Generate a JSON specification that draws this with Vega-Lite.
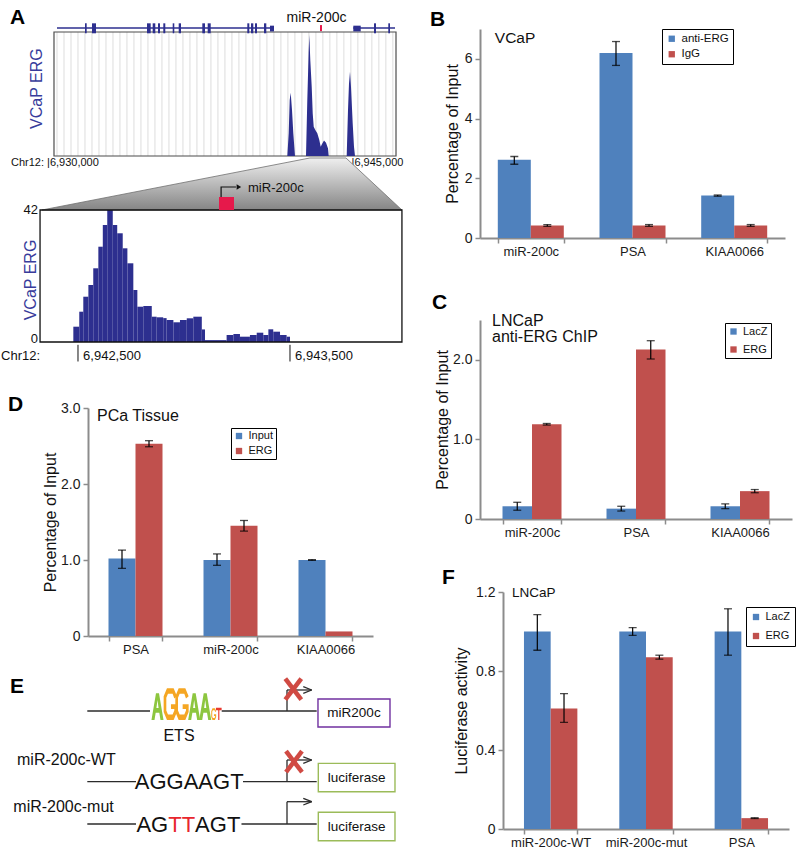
{
"$schema": "https://vega.github.io/schema/vega-lite/v6.json",
"background": "white",
"padding": 0,
"config": {
  "font": "Liberation Sans",
  "view": {"stroke": null},
  "axis": {"grid": false, "domainColor": "#8c8c8c", "domainWidth": 2, "tickColor": "#8c8c8c", "tickWidth": 1.5, "tickSize": 5, "labelColor": "#1a1a1a", "titleColor": "#111111", "titleFontWeight": "normal"},
  "axisX": {"labelFontSize": 13, "labelAngle": 0, "tickBand": "extent", "labelPadding": 2},
  "axisY": {"labelFontSize": 14, "titleFontSize": 16, "labelPadding": 3}
},
"hconcat": [
{
  "vconcat": [
  {
    "width": 314, "height": 127,
    "layer": [
      {"data": {"values": [{"gx":6930490},{"gx":6930833},{"gx":6931176},{"gx":6931519},{"gx":6931862},{"gx":6932205},{"gx":6932548},{"gx":6932891},{"gx":6933234},{"gx":6933577},{"gx":6933920},{"gx":6934263},{"gx":6934606},{"gx":6934949},{"gx":6935292},{"gx":6935635},{"gx":6935978},{"gx":6936321},{"gx":6936664},{"gx":6937007},{"gx":6937350},{"gx":6937693},{"gx":6938036},{"gx":6938379},{"gx":6938722},{"gx":6939065},{"gx":6939408},{"gx":6939751},{"gx":6940094},{"gx":6940437},{"gx":6940780},{"gx":6941123},{"gx":6941466},{"gx":6941809},{"gx":6942152},{"gx":6942495},{"gx":6942838},{"gx":6943181},{"gx":6943524},{"gx":6943867},{"gx":6944210},{"gx":6944553},{"gx":6944896},{"gx":6945239},{"gx":6945582},{"gx":6945925},{"gx":6946268},{"gx":6946611},{"gx":6946954}]},
       "mark": {"type": "rule", "color": "#d4d4d4", "strokeWidth": 0.8},
       "encoding": {
         "x": {"field": "gx", "type": "quantitative", "scale": {"domain": [6932010, 6947402], "nice": false, "zero": false}, "axis": null},
         "y": {"datum": 0, "type": "quantitative", "scale": {"domain": [0, 42], "nice": false, "zero": false}, "axis": null},
         "y2": {"datum": 41}}},
      {"data": {"values": [{"start": 6930343, "end": 6947108, "lo": 0, "hi": 41}]},
       "mark": {"type": "rect", "filled": false, "stroke": "#4d4d4d", "strokeWidth": 1.2},
       "encoding": {
         "x": {"field": "start", "type": "quantitative", "scale": {"domain": [6932010, 6947402], "nice": false, "zero": false}, "axis": null},
         "x2": {"field": "end"},
         "y": {"field": "lo", "type": "quantitative", "scale": {"domain": [0, 42], "nice": false, "zero": false}, "axis": null},
         "y2": {"field": "hi"}}},
      {"data": {"values": [
         {"peak":1,"pos":6941780,"cov":0},{"peak":1,"pos":6941848,"cov":7.5},{"peak":1,"pos":6941897,"cov":18.5},{"peak":1,"pos":6941946,"cov":20.9},{"peak":1,"pos":6942010,"cov":15.2},{"peak":1,"pos":6942074,"cov":7.5},{"peak":1,"pos":6942157,"cov":0},
         {"peak":2,"pos":6942696,"cov":0},{"peak":2,"pos":6942760,"cov":18.5},{"peak":2,"pos":6942829,"cov":35},{"peak":2,"pos":6942858,"cov":40},{"peak":2,"pos":6942907,"cov":31.7},{"peak":2,"pos":6942976,"cov":22.9},{"peak":2,"pos":6943025,"cov":14.1},{"peak":2,"pos":6943074,"cov":9.7},{"peak":2,"pos":6943152,"cov":8.6},{"peak":2,"pos":6943250,"cov":7.5},{"peak":2,"pos":6943348,"cov":5.3},{"peak":2,"pos":6943417,"cov":3.1},{"peak":2,"pos":6943481,"cov":4.0},{"peak":2,"pos":6943579,"cov":5.1},{"peak":2,"pos":6943677,"cov":4.4},{"peak":2,"pos":6943775,"cov":2.5},{"peak":2,"pos":6943809,"cov":0},
         {"peak":3,"pos":6944691,"cov":0},{"peak":3,"pos":6944755,"cov":15.2},{"peak":3,"pos":6944804,"cov":24},{"peak":3,"pos":6944853,"cov":27.9},{"peak":3,"pos":6944902,"cov":22.9},{"peak":3,"pos":6944985,"cov":10.8},{"peak":3,"pos":6945049,"cov":3.1},{"peak":3,"pos":6945098,"cov":0}]},
       "mark": {"type": "area", "color": "#2d2f8f", "interpolate": "linear"},
       "encoding": {
         "x": {"field": "pos", "type": "quantitative", "scale": {"domain": [6932010, 6947402], "nice": false, "zero": false}, "axis": null},
         "y": {"field": "cov", "type": "quantitative", "scale": {"domain": [0, 42], "nice": false, "zero": false}, "axis": null},
         "detail": {"field": "peak"}}},
      {"data": {"values": [{"start": 6930490, "end": 6941128}, {"start": 6945015, "end": 6947059}]},
       "mark": {"type": "rule", "color": "#2d2f8f", "strokeWidth": 1.4},
       "encoding": {
         "x": {"field": "start", "type": "quantitative", "scale": {"domain": [6932010, 6947402], "nice": false, "zero": false}, "axis": null},
         "x2": {"field": "end"},
         "y": {"datum": 42.33, "type": "quantitative", "scale": {"domain": [0, 42], "nice": false, "zero": false}, "axis": null}}},
      {"data": {"values": [{"start":6931863,"end":6931946},{"start":6932206,"end":6932402},{"start":6934902,"end":6935083},{"start":6935181,"end":6935309},{"start":6935441,"end":6935539},{"start":6935701,"end":6935799},{"start":6936162,"end":6936240},{"start":6936456,"end":6936569},{"start":6937613,"end":6937745},{"start":6937877,"end":6938025},{"start":6939819,"end":6939917},{"start":6940000,"end":6940113},{"start":6940196,"end":6940294},{"start":6940637,"end":6940750},{"start":6946030,"end":6946128},{"start":6946730,"end":6946814}]},
       "mark": {"type": "rect", "color": "#2d2f8f"},
       "encoding": {
         "x": {"field": "start", "type": "quantitative", "scale": {"domain": [6932010, 6947402], "nice": false, "zero": false}, "axis": null},
         "x2": {"field": "end"},
         "y": {"datum": 40.58, "type": "quantitative", "scale": {"domain": [0, 42], "nice": false, "zero": false}, "axis": null},
         "y2": {"datum": 43.88}}},
      {"data": {"values": [{"start":6940931,"end":6941127},{"start":6945015,"end":6945378}]},
       "mark": {"type": "rect", "color": "#2d2f8f"},
       "encoding": {
         "x": {"field": "start", "type": "quantitative", "scale": {"domain": [6932010, 6947402], "nice": false, "zero": false}, "axis": null},
         "x2": {"field": "end"},
         "y": {"datum": 41.2, "type": "quantitative", "scale": {"domain": [0, 42], "nice": false, "zero": false}, "axis": null},
         "y2": {"datum": 43.1}}},
      {"data": {"values": [{"start": 6943383, "end": 6943481}]},
       "mark": {"type": "rect", "color": "#e6194b"},
       "encoding": {
         "x": {"field": "start", "type": "quantitative", "scale": {"domain": [6932010, 6947402], "nice": false, "zero": false}, "axis": null},
         "x2": {"field": "end"},
         "y": {"datum": 41.3, "type": "quantitative", "scale": {"domain": [0, 42], "nice": false, "zero": false}, "axis": null},
         "y2": {"datum": 43.3}}},
      {"data": {"values": [{"t": "miR-200c", "x": 6943211, "y": 45.53}]},
       "mark": {"type": "text", "align": "center", "baseline": "middle", "fontSize": 14, "color": "#111"},
       "encoding": {
         "x": {"field": "x", "type": "quantitative", "scale": {"domain": [6932010, 6947402], "nice": false, "zero": false}, "axis": null},
         "y": {"field": "y", "type": "quantitative", "scale": {"domain": [0, 42], "nice": false, "zero": false}, "axis": null},
         "text": {"field": "t"}}},
      {"data": {"values": [{"t": "VCaP ERG", "x": 6929510, "y": 22.3}]},
       "mark": {"type": "text", "align": "center", "baseline": "middle", "fontSize": 16, "angle": 270, "color": "#383c9b"},
       "encoding": {
         "x": {"field": "x", "type": "quantitative", "scale": {"domain": [6932010, 6947402], "nice": false, "zero": false}, "axis": null},
         "y": {"field": "y", "type": "quantitative", "scale": {"domain": [0, 42], "nice": false, "zero": false}, "axis": null},
         "text": {"field": "t"}}},
      {"data": {"values": [{"t": "Chr12: |6,930,000", "x": 6928235, "y": -2.31}, {"t": "|6,945,000", "x": 6944931, "y": -2.31}]},
       "mark": {"type": "text", "align": "left", "baseline": "middle", "fontSize": 11, "color": "#111"},
       "encoding": {
         "x": {"field": "x", "type": "quantitative", "scale": {"domain": [6932010, 6947402], "nice": false, "zero": false}, "axis": null},
         "y": {"field": "y", "type": "quantitative", "scale": {"domain": [0, 42], "nice": false, "zero": false}, "axis": null},
         "text": {"field": "t"}}},
      {"data": {"values": [{"t": "A", "x": 6928186, "y": 45.8}, {"t": "B", "x": 6948775, "y": 44.97}]},
       "mark": {"type": "text", "align": "left", "baseline": "middle", "fontSize": 21, "fontWeight": "bold", "color": "#000"},
       "encoding": {
         "x": {"field": "x", "type": "quantitative", "scale": {"domain": [6932010, 6947402], "nice": false, "zero": false}, "axis": null},
         "y": {"field": "y", "type": "quantitative", "scale": {"domain": [0, 42], "nice": false, "zero": false}, "axis": null},
         "text": {"field": "t"}}},
      {"data": {"values": [{"x": 6927721, "y": 51.42}]},
       "mark": {"type": "square", "size": 1, "color": "white", "opacity": 1, "filled": true},
       "encoding": {
         "x": {"field": "x", "type": "quantitative", "scale": {"domain": [6932010, 6947402], "nice": false, "zero": false}, "axis": null},
         "y": {"field": "y", "type": "quantitative", "scale": {"domain": [0, 42], "nice": false, "zero": false}, "axis": null}}}
    ]
  },
  {
    "width": 314, "height": 252,
    "layer": [
      {"data": {"values": [{"pos": 6942330, "lvl": 42}, {"pos": 6943594, "lvl": 58.55}, {"pos": 6943764, "lvl": 58.55}, {"pos": 6944028, "lvl": 42}]},
       "mark": {"type": "area", "stroke": "#707070", "strokeWidth": 0.8, "color": {"gradient": "linear", "x1": 0, "y1": 0, "x2": 0, "y2": 1, "stops": [{"offset": 0, "color": "#efefef"}, {"offset": 1, "color": "#858585"}]}},
       "encoding": {
         "x": {"field": "pos", "type": "quantitative", "scale": {"domain": [6942547.2, 6944028.3], "nice": false, "zero": false}, "axis": null},
         "y": {"field": "lvl", "type": "quantitative", "scale": {"domain": [-21, 59.18], "nice": false, "zero": false}, "axis": null},
         "y2": {"datum": 42}}},
      {"data": {"values": [
         {"start":6942478,"end":6942506,"cov":4.87},{"start":6942506,"end":6942525,"cov":9.64},{"start":6942525,"end":6942549,"cov":14.41},{"start":6942549,"end":6942572,"cov":18.14},{"start":6942572,"end":6942596,"cov":23.45},{"start":6942596,"end":6942617,"cov":30.32},{"start":6942617,"end":6942638,"cov":37.23},{"start":6942638,"end":6942664,"cov":42},{"start":6942664,"end":6942685,"cov":37.23},{"start":6942685,"end":6942711,"cov":34.59},{"start":6942711,"end":6942733,"cov":29.81},{"start":6942733,"end":6942761,"cov":25.04},{"start":6942761,"end":6942780,"cov":16.55},{"start":6942780,"end":6942808,"cov":11.23},{"start":6942808,"end":6942848,"cov":11.45},{"start":6942848,"end":6942871,"cov":8.05},{"start":6942871,"end":6942902,"cov":7.86},{"start":6942902,"end":6942918,"cov":7.6},{"start":6942918,"end":6942950,"cov":7.0},{"start":6942950,"end":6942981,"cov":6.27},{"start":6942981,"end":6943013,"cov":7.0},{"start":6943013,"end":6943044,"cov":7.54},{"start":6943044,"end":6943084,"cov":8.05},{"start":6943084,"end":6943099,"cov":4.0},{"start":6943099,"end":6943201,"cov":0.6},{"start":6943201,"end":6943233,"cov":2.23},{"start":6943233,"end":6943264,"cov":2.55},{"start":6943264,"end":6943311,"cov":1.69},{"start":6943311,"end":6943343,"cov":2.23},{"start":6943343,"end":6943374,"cov":2.96},{"start":6943374,"end":6943398,"cov":2.23},{"start":6943398,"end":6943421,"cov":4.04},{"start":6943421,"end":6943453,"cov":3.28},{"start":6943453,"end":6943484,"cov":2.23},{"start":6943484,"end":6943500,"cov":1.69}]},
       "mark": {"type": "rect", "color": "#2d2f8f"},
       "encoding": {
         "x": {"field": "start", "type": "quantitative", "scale": {"domain": [6942547.2, 6944028.3], "nice": false, "zero": false}, "axis": null},
         "x2": {"field": "end"},
         "y": {"field": "cov", "type": "quantitative", "scale": {"domain": [-21, 59.18], "nice": false, "zero": false}, "axis": null},
         "y2": {"datum": 0}}},
      {"data": {"values": [{"start": 6942321, "end": 6944028, "lo": 0, "hi": 42}]},
       "mark": {"type": "rect", "filled": false, "stroke": "#111", "strokeWidth": 1.3},
       "encoding": {
         "x": {"field": "start", "type": "quantitative", "scale": {"domain": [6942547.2, 6944028.3], "nice": false, "zero": false}, "axis": null},
         "x2": {"field": "end"},
         "y": {"field": "lo", "type": "quantitative", "scale": {"domain": [-21, 59.18], "nice": false, "zero": false}, "axis": null},
         "y2": {"field": "hi"}}},
      {"data": {"values": [{"start": 6943165, "end": 6943236}]},
       "mark": {"type": "rect", "color": "#e6194b"},
       "encoding": {
         "x": {"field": "start", "type": "quantitative", "scale": {"domain": [6942547.2, 6944028.3], "nice": false, "zero": false}, "axis": null},
         "x2": {"field": "end"},
         "y": {"datum": 42, "type": "quantitative", "scale": {"domain": [-21, 59.18], "nice": false, "zero": false}, "axis": null},
         "y2": {"datum": 46.14}}},
      {"data": {"values": [{"pos": 6943175, "lvl": 46.14, "o": 1}, {"pos": 6943175, "lvl": 49.32, "o": 2}, {"pos": 6943245, "lvl": 49.32, "o": 3}]},
       "mark": {"type": "line", "color": "#111", "strokeWidth": 1.2},
       "encoding": {
         "x": {"field": "pos", "type": "quantitative", "scale": {"domain": [6942547.2, 6944028.3], "nice": false, "zero": false}, "axis": null},
         "y": {"field": "lvl", "type": "quantitative", "scale": {"domain": [-21, 59.18], "nice": false, "zero": false}, "axis": null},
         "order": {"field": "o"}}},
      {"data": {"values": [{"pos": 6943259, "lvl": 49.32}]},
       "mark": {"type": "point", "shape": "triangle-right", "filled": true, "size": 28, "color": "#111", "opacity": 1},
       "encoding": {
         "x": {"field": "pos", "type": "quantitative", "scale": {"domain": [6942547.2, 6944028.3], "nice": false, "zero": false}, "axis": null},
         "y": {"field": "lvl", "type": "quantitative", "scale": {"domain": [-21, 59.18], "nice": false, "zero": false}, "axis": null}}},
      {"data": {"values": [{"pos": 6942500}, {"pos": 6943500}]},
       "mark": {"type": "rule", "color": "#111", "strokeWidth": 1},
       "encoding": {
         "x": {"field": "pos", "type": "quantitative", "scale": {"domain": [6942547.2, 6944028.3], "nice": false, "zero": false}, "axis": null},
         "y": {"datum": -0.9, "type": "quantitative", "scale": {"domain": [-21, 59.18], "nice": false, "zero": false}, "axis": null},
         "y2": {"datum": -6.2}}},
      {"data": {"values": [{"t": "42", "x": 6942311, "y": 42}, {"t": "0", "x": 6942311, "y": 0.8}]},
       "mark": {"type": "text", "align": "right", "baseline": "middle", "fontSize": 13, "color": "#111"},
       "encoding": {
         "x": {"field": "x", "type": "quantitative", "scale": {"domain": [6942547.2, 6944028.3], "nice": false, "zero": false}, "axis": null},
         "y": {"field": "y", "type": "quantitative", "scale": {"domain": [-21, 59.18], "nice": false, "zero": false}, "axis": null},
         "text": {"field": "t"}}},
      {"data": {"values": [{"t": "VCaP ERG", "x": 6942278, "y": 19.73}]},
       "mark": {"type": "text", "align": "center", "baseline": "middle", "fontSize": 16, "angle": 270, "color": "#383c9b"},
       "encoding": {
         "x": {"field": "x", "type": "quantitative", "scale": {"domain": [6942547.2, 6944028.3], "nice": false, "zero": false}, "axis": null},
         "y": {"field": "y", "type": "quantitative", "scale": {"domain": [-21, 59.18], "nice": false, "zero": false}, "axis": null},
         "text": {"field": "t"}}},
      {"data": {"values": [{"t": "miR-200c", "x": 6943302, "y": 48.9}, {"t": "Chr12:", "x": 6942137, "y": -4.3}, {"t": "6,942,500", "x": 6942524, "y": -4.3}, {"t": "6,943,500", "x": 6943524, "y": -4.3}]},
       "mark": {"type": "text", "align": "left", "baseline": "middle", "fontSize": 13, "color": "#111"},
       "encoding": {
         "x": {"field": "x", "type": "quantitative", "scale": {"domain": [6942547.2, 6944028.3], "nice": false, "zero": false}, "axis": null},
         "y": {"field": "y", "type": "quantitative", "scale": {"domain": [-21, 59.18], "nice": false, "zero": false}, "axis": null},
         "text": {"field": "t"}}},
      {"data": {"values": [{"t": "C", "x": 6944170, "y": 12.25}, {"t": "D", "x": 6942170, "y": -19.89}]},
       "mark": {"type": "text", "align": "left", "baseline": "middle", "fontSize": 21, "fontWeight": "bold", "color": "#000"},
       "encoding": {
         "x": {"field": "x", "type": "quantitative", "scale": {"domain": [6942547.2, 6944028.3], "nice": false, "zero": false}, "axis": null},
         "y": {"field": "y", "type": "quantitative", "scale": {"domain": [-21, 59.18], "nice": false, "zero": false}, "axis": null},
         "text": {"field": "t"}}}
    ]
  },
  {
    "width": 285, "height": 228,
    "data": {"values": [
      {"target":"PSA","series":"Input","value":1.02,"lo":0.89,"hi":1.13},
      {"target":"PSA","series":"ERG","value":2.53,"lo":2.49,"hi":2.57},
      {"target":"miR-200c","series":"Input","value":1.0,"lo":0.93,"hi":1.08},
      {"target":"miR-200c","series":"ERG","value":1.45,"lo":1.38,"hi":1.52},
      {"target":"KIAA0066","series":"Input","value":1.0,"lo":0.995,"hi":1.005},
      {"target":"KIAA0066","series":"ERG","value":0.06,"lo":null,"hi":null}
    ]},
    "encoding": {"x": {"field": "target", "type": "nominal", "sort": ["PSA","miR-200c","KIAA0066"], "scale": {"type": "band", "paddingInner": 0.432, "paddingOuter": 0.216}, "axis": {"title": null}}},
    "layer": [
      {"transform": [{"filter": "datum.series === 'Input'"}],
       "mark": {"type": "bar", "size": 27, "xOffset": -13.5},
       "encoding": {
         "y": {"field": "value", "type": "quantitative", "title": "Percentage of Input", "scale": {"domain": [0, 3], "nice": false}, "axis": {"values": [0,0.5,1,1.5,2,2.5,3], "labelExpr": "datum.value === 0 ? '0' : format(datum.value, '.1f')", "titlePadding": 2}},
         "color": {"field": "series", "type": "nominal", "sort": ["Input","ERG"], "scale": {"domain": ["Input","ERG"], "range": ["#4f81bd","#c0504d"]},
           "legend": {"orient": "none", "legendX": 143, "legendY": 20, "title": null, "strokeColor": "black", "fillColor": "white", "padding": 2.5, "rowPadding": 3, "symbolType": "square", "symbolSize": 40, "symbolStrokeWidth": 0, "labelFontSize": 11, "labelOffset": 4, "labelColor": "#111"}}}},
      {"transform": [{"filter": "datum.series === 'ERG'"}],
       "mark": {"type": "bar", "size": 27, "xOffset": 13.5},
       "encoding": {
         "y": {"field": "value", "type": "quantitative", "title": "Percentage of Input"},
         "color": {"field": "series", "type": "nominal", "sort": ["Input","ERG"], "scale": {"domain": ["Input","ERG"], "range": ["#4f81bd","#c0504d"]}}}},
      {"transform": [{"filter": "datum.series === 'Input' && isValid(datum.lo)"}],
       "mark": {"type": "rule", "color": "black", "strokeWidth": 1.2, "xOffset": -13.5},
       "encoding": {"y": {"field": "lo", "type": "quantitative", "title": "Percentage of Input"}, "y2": {"field": "hi"}}},
      {"transform": [{"filter": "datum.series === 'ERG' && isValid(datum.lo)"}],
       "mark": {"type": "rule", "color": "black", "strokeWidth": 1.2, "xOffset": 13.5},
       "encoding": {"y": {"field": "lo", "type": "quantitative", "title": "Percentage of Input"}, "y2": {"field": "hi"}}},
      {"transform": [{"filter": "datum.series === 'Input' && isValid(datum.lo)"}],
       "mark": {"type": "tick", "color": "black", "size": 8, "thickness": 1.3, "xOffset": -13.5},
       "encoding": {"y": {"field": "lo", "type": "quantitative", "title": "Percentage of Input"}}},
      {"transform": [{"filter": "datum.series === 'ERG' && isValid(datum.lo)"}],
       "mark": {"type": "tick", "color": "black", "size": 8, "thickness": 1.3, "xOffset": 13.5},
       "encoding": {"y": {"field": "lo", "type": "quantitative", "title": "Percentage of Input"}}},
      {"transform": [{"filter": "datum.series === 'Input' && isValid(datum.hi)"}],
       "mark": {"type": "tick", "color": "black", "size": 8, "thickness": 1.3, "xOffset": -13.5},
       "encoding": {"y": {"field": "hi", "type": "quantitative", "title": "Percentage of Input"}}},
      {"transform": [{"filter": "datum.series === 'ERG' && isValid(datum.hi)"}],
       "mark": {"type": "tick", "color": "black", "size": 8, "thickness": 1.3, "xOffset": 13.5},
       "encoding": {"y": {"field": "hi", "type": "quantitative", "title": "Percentage of Input"}}},
      {"data": {"values": [{"t": "PCa Tissue"}]},
       "mark": {"type": "text", "align": "left", "baseline": "middle", "fontSize": 16, "dx": -11.5, "dy": 8, "color": "#111"},
       "encoding": {"x": {"datum": "PSA", "bandPosition": 0}, "y": {"datum": 3}, "text": {"field": "t"}}}
    ]
  },
  {
    "width": 314, "height": 217,
    "layer": [
      {"data": {"values": [
         {"x":0.13,"y":65.44,"x2":27.39,"y2":65.44},{"x":58.57,"y":65.44,"x2":99.87,"y2":65.44},{"x":86.96,"y":65.44,"x2":86.96,"y2":75.12},{"x":86.96,"y":75.12,"x2":97.7,"y2":75.12},{"x":94.04,"y":76.64,"x2":97.7,"y2":75.12},{"x":94.04,"y":73.6,"x2":97.7,"y2":75.12},
         {"x":0.13,"y":32.86,"x2":21.3,"y2":32.86},{"x":67.83,"y":32.86,"x2":99.87,"y2":32.86},{"x":86.96,"y":32.86,"x2":86.96,"y2":42.86},{"x":86.96,"y":42.86,"x2":97.7,"y2":42.86},{"x":94.04,"y":44.33,"x2":97.7,"y2":42.86},{"x":94.04,"y":41.29,"x2":97.7,"y2":42.86},
         {"x":0.13,"y":13.36,"x2":21.3,"y2":13.36},{"x":67.17,"y":13.36,"x2":99.87,"y2":13.36},{"x":86.96,"y":13.36,"x2":86.96,"y2":23.64},{"x":86.96,"y":23.64,"x2":97.7,"y2":23.64},{"x":94.04,"y":25.21,"x2":97.7,"y2":23.64},{"x":94.04,"y":22.12,"x2":97.7,"y2":23.64}]},
       "mark": {"type": "rule", "color": "#2b2b2b", "strokeWidth": 1.3},
       "encoding": {
         "x": {"field": "x", "type": "quantitative", "scale": {"domain": [0.4348, 136.96], "nice": false, "zero": false}, "axis": null},
         "x2": {"field": "x2"},
         "y": {"field": "y", "type": "quantitative", "scale": {"domain": [0, 100], "nice": false, "zero": false}, "axis": null},
         "y2": {"field": "y2"}}},
      {"data": {"values": [
         {"x":100.43,"x2":131.74,"y":58.06,"y2":70.97,"kind":"mir"},
         {"x":100.57,"x2":133.91,"y":28.25,"y2":41.29,"kind":"luc"},
         {"x":100.57,"x2":133.91,"y":5.67,"y2":18.76,"kind":"luc"}]},
       "mark": {"type": "rect", "filled": false, "strokeWidth": 1.4},
       "encoding": {
         "x": {"field": "x", "type": "quantitative", "scale": {"domain": [0.4348, 136.96], "nice": false, "zero": false}, "axis": null},
         "x2": {"field": "x2"},
         "y": {"field": "y", "type": "quantitative", "scale": {"domain": [0, 100], "nice": false, "zero": false}, "axis": null},
         "y2": {"field": "y2"},
         "stroke": {"field": "kind", "type": "nominal", "scale": {"domain": ["mir","luc"], "range": ["#7030a0","#9bbb59"]}, "legend": null}}},
      {"data": {"values": [
         {"x":86.22,"y":80.32,"x2":93.17,"y2":70.65},{"x":93.17,"y":80.32,"x2":86.22,"y2":70.65},
         {"x":86.52,"y":46.91,"x2":93.48,"y2":37.24},{"x":93.48,"y":46.91,"x2":86.52,"y2":37.24}]},
       "mark": {"type": "rule", "color": "#d04a43", "strokeWidth": 4.5},
       "encoding": {
         "x": {"field": "x", "type": "quantitative", "scale": {"domain": [0.4348, 136.96], "nice": false, "zero": false}, "axis": null},
         "x2": {"field": "x2"},
         "y": {"field": "y", "type": "quantitative", "scale": {"domain": [0, 100], "nice": false, "zero": false}, "axis": null},
         "y2": {"field": "y2"}}},
      {"data": {"values": [
         {"letter":"A","pos":30.65,"bits":1.67},{"letter":"G","pos":36.22,"bits":1.98},{"letter":"G","pos":41.3,"bits":1.98},{"letter":"A","pos":46.6,"bits":1.67},{"letter":"A","pos":51.4,"bits":1.67},{"letter":"G","pos":55.09,"bits":0.73},{"letter":"T","pos":57.3,"bits":0.77}]},
       "mark": {"type": "point", "filled": true, "opacity": 1, "strokeWidth": 0},
       "encoding": {
         "x": {"field": "pos", "type": "quantitative", "scale": {"domain": [0.4348, 136.96], "nice": false, "zero": false}, "axis": null},
         "y": {"datum": 61.29, "type": "quantitative", "scale": {"domain": [0, 100], "nice": false, "zero": false}, "axis": null},
         "shape": {"field": "letter", "type": "nominal", "scale": {"domain": ["A","G","T"], "range": [
           "M-0.45,0 L-0.1125,-2 L0.1125,-2 L0.45,0 L0.225,0 L0.135,-0.55 L-0.135,-0.55 L-0.225,0 Z M-0.081,-0.9 L0.081,-0.9 L0,-1.5 Z",
           "M0.42,-1.5 L0.21,-2 L-0.21,-2 L-0.42,-1.5 L-0.42,-0.5 L-0.21,0 L0.21,0 L0.42,-0.5 L0.42,-1 L0.042,-1 L0.042,-0.7 L0.252,-0.7 L0.252,-0.6 L0.147,-0.35 L-0.147,-0.35 L-0.252,-0.6 L-0.252,-1.4 L-0.147,-1.65 L0.147,-1.65 L0.252,-1.35 Z",
           "M-0.46,-2 L0.46,-2 L0.46,-1.6 L0.092,-1.6 L0.092,0 L-0.092,0 L-0.092,-1.6 L-0.46,-1.6 Z"]}, "legend": null},
         "size": {"field": "bits", "type": "quantitative", "scale": {"type": "pow", "exponent": 2, "domain": [0, 2], "range": [0, 1024]}, "legend": null},
         "color": {"field": "letter", "type": "nominal", "scale": {"domain": ["A","G","T"], "range": ["#8dc63f","#f5a623","#e8382f"]}, "legend": null}}},
      {"data": {"values": [{"t": "miR-200c-WT", "x": -30.43, "y": 42.86}, {"t": "miR-200c-mut", "x": -32.04, "y": 21.34}]},
       "mark": {"type": "text", "align": "left", "baseline": "middle", "fontSize": 16, "color": "#111"},
       "encoding": {
         "x": {"field": "x", "type": "quantitative", "scale": {"domain": [0.4348, 136.96], "nice": false, "zero": false}, "axis": null},
         "y": {"field": "y", "type": "quantitative", "scale": {"domain": [0, 100], "nice": false, "zero": false}, "axis": null},
         "text": {"field": "t"}}},
      {"data": {"values": [{"t": "ETS", "x": 40, "y": 53.9}]},
       "mark": {"type": "text", "align": "center", "baseline": "middle", "fontSize": 16, "color": "#111"},
       "encoding": {
         "x": {"field": "x", "type": "quantitative", "scale": {"domain": [0.4348, 136.96], "nice": false, "zero": false}, "axis": null},
         "y": {"field": "y", "type": "quantitative", "scale": {"domain": [0, 100], "nice": false, "zero": false}, "axis": null},
         "text": {"field": "t"}}},
      {"data": {"values": [{"t": "miR200c", "x": 116.09, "y": 64.52}, {"t": "luciferase", "x": 117.26, "y": 34.79}, {"t": "luciferase", "x": 117.26, "y": 12.21}]},
       "mark": {"type": "text", "align": "center", "baseline": "middle", "fontSize": 13.5, "color": "#111"},
       "encoding": {
         "x": {"field": "x", "type": "quantitative", "scale": {"domain": [0.4348, 136.96], "nice": false, "zero": false}, "axis": null},
         "y": {"field": "y", "type": "quantitative", "scale": {"domain": [0, 100], "nice": false, "zero": false}, "axis": null},
         "text": {"field": "t"}}},
      {"data": {"values": [{"t": "AGGAAGT", "x": 44.43, "y": 29.35}]},
       "mark": {"type": "text", "align": "center", "baseline": "alphabetic", "fontSize": 22, "color": "#111"},
       "encoding": {
         "x": {"field": "x", "type": "quantitative", "scale": {"domain": [0.4348, 136.96], "nice": false, "zero": false}, "axis": null},
         "y": {"field": "y", "type": "quantitative", "scale": {"domain": [0, 100], "nice": false, "zero": false}, "axis": null},
         "text": {"field": "t"}}},
      {"data": {"values": [{"t": "AG", "x": 35.3, "y": 9.82}]},
       "mark": {"type": "text", "align": "right", "baseline": "alphabetic", "fontSize": 22, "color": "#111"},
       "encoding": {
         "x": {"field": "x", "type": "quantitative", "scale": {"domain": [0.4348, 136.96], "nice": false, "zero": false}, "axis": null},
         "y": {"field": "y", "type": "quantitative", "scale": {"domain": [0, 100], "nice": false, "zero": false}, "axis": null},
         "text": {"field": "t"}}},
      {"data": {"values": [{"t": "TT", "x": 41.15, "y": 9.82}]},
       "mark": {"type": "text", "align": "center", "baseline": "alphabetic", "fontSize": 22, "color": "#e8262d"},
       "encoding": {
         "x": {"field": "x", "type": "quantitative", "scale": {"domain": [0.4348, 136.96], "nice": false, "zero": false}, "axis": null},
         "y": {"field": "y", "type": "quantitative", "scale": {"domain": [0, 100], "nice": false, "zero": false}, "axis": null},
         "text": {"field": "t"}}},
      {"data": {"values": [{"t": "AGT", "x": 47.0, "y": 9.82}]},
       "mark": {"type": "text", "align": "left", "baseline": "alphabetic", "fontSize": 22, "color": "#111"},
       "encoding": {
         "x": {"field": "x", "type": "quantitative", "scale": {"domain": [0.4348, 136.96], "nice": false, "zero": false}, "axis": null},
         "y": {"field": "y", "type": "quantitative", "scale": {"domain": [0, 100], "nice": false, "zero": false}, "axis": null},
         "text": {"field": "t"}}},
      {"data": {"values": [{"t": "E", "x": -33.48, "y": 76.27}, {"t": "F", "x": 154.35, "y": 126.5}]},
       "mark": {"type": "text", "align": "left", "baseline": "middle", "fontSize": 21, "fontWeight": "bold", "color": "#000"},
       "encoding": {
         "x": {"field": "x", "type": "quantitative", "scale": {"domain": [0.4348, 136.96], "nice": false, "zero": false}, "axis": null},
         "y": {"field": "y", "type": "quantitative", "scale": {"domain": [0, 100], "nice": false, "zero": false}, "axis": null},
         "text": {"field": "t"}}}
    ]
  }
  ],
  "spacing": 0,
  "bounds": "flush",
  "resolve": {"scale": {"color": "independent", "shape": "independent", "size": "independent", "stroke": "independent"}, "legend": {"color": "independent"}}
},
{
  "vconcat": [
  {
    "width": 305, "height": 209,
    "data": {"values": [
      {"target":"miR-200c","series":"anti-ERG","value":2.62,"lo":2.47,"hi":2.73},
      {"target":"miR-200c","series":"IgG","value":0.42,"lo":0.39,"hi":0.45},
      {"target":"PSA","series":"anti-ERG","value":6.2,"lo":5.78,"hi":6.58},
      {"target":"PSA","series":"IgG","value":0.42,"lo":0.39,"hi":0.45},
      {"target":"KIAA0066","series":"anti-ERG","value":1.42,"lo":1.40,"hi":1.44},
      {"target":"KIAA0066","series":"IgG","value":0.42,"lo":0.39,"hi":0.45}
    ]},
    "encoding": {"x": {"field": "target", "type": "nominal", "sort": ["miR-200c","PSA","KIAA0066"], "scale": {"type": "band", "paddingInner": 0.351, "paddingOuter": 0.175}, "axis": {"title": null}}},
    "layer": [
      {"transform": [{"filter": "datum.series === 'anti-ERG'"}],
       "mark": {"type": "bar", "size": 33, "xOffset": -16.5},
       "encoding": {
         "y": {"field": "value", "type": "quantitative", "title": "Percentage of Input", "scale": {"domain": [0, 7], "nice": false}, "axis": {"values": [0,1,2,3,4,5,6,7], "titlePadding": 4}},
         "color": {"field": "series", "type": "nominal", "sort": ["anti-ERG","IgG"], "scale": {"domain": ["anti-ERG","IgG"], "range": ["#4f81bd","#c0504d"]},
           "legend": {"orient": "none", "legendX": 182, "legendY": 0, "title": null, "strokeColor": "black", "fillColor": "white", "padding": 4, "rowPadding": 2.5, "symbolType": "square", "symbolSize": 40, "symbolStrokeWidth": 0, "labelFontSize": 11.5, "labelOffset": 4, "labelColor": "#111"}}}},
      {"transform": [{"filter": "datum.series === 'IgG'"}],
       "mark": {"type": "bar", "size": 33, "xOffset": 16.5},
       "encoding": {
         "y": {"field": "value", "type": "quantitative", "title": "Percentage of Input"},
         "color": {"field": "series", "type": "nominal", "sort": ["anti-ERG","IgG"], "scale": {"domain": ["anti-ERG","IgG"], "range": ["#4f81bd","#c0504d"]}}}},
      {"transform": [{"filter": "datum.series === 'anti-ERG'"}],
       "mark": {"type": "rule", "color": "black", "strokeWidth": 1.2, "xOffset": -16.5},
       "encoding": {"y": {"field": "lo", "type": "quantitative", "title": "Percentage of Input"}, "y2": {"field": "hi"}}},
      {"transform": [{"filter": "datum.series === 'IgG'"}],
       "mark": {"type": "rule", "color": "black", "strokeWidth": 1.2, "xOffset": 16.5},
       "encoding": {"y": {"field": "lo", "type": "quantitative", "title": "Percentage of Input"}, "y2": {"field": "hi"}}},
      {"transform": [{"filter": "datum.series === 'anti-ERG'"}],
       "mark": {"type": "tick", "color": "black", "size": 8, "thickness": 1.3, "xOffset": -16.5},
       "encoding": {"y": {"field": "lo", "type": "quantitative", "title": "Percentage of Input"}}},
      {"transform": [{"filter": "datum.series === 'IgG'"}],
       "mark": {"type": "tick", "color": "black", "size": 8, "thickness": 1.3, "xOffset": 16.5},
       "encoding": {"y": {"field": "lo", "type": "quantitative", "title": "Percentage of Input"}}},
      {"transform": [{"filter": "datum.series === 'anti-ERG'"}],
       "mark": {"type": "tick", "color": "black", "size": 8, "thickness": 1.3, "xOffset": -16.5},
       "encoding": {"y": {"field": "hi", "type": "quantitative", "title": "Percentage of Input"}}},
      {"transform": [{"filter": "datum.series === 'IgG'"}],
       "mark": {"type": "tick", "color": "black", "size": 8, "thickness": 1.3, "xOffset": 16.5},
       "encoding": {"y": {"field": "hi", "type": "quantitative", "title": "Percentage of Input"}}},
      {"data": {"values": [{"t": "VCaP"}]},
       "mark": {"type": "text", "align": "left", "baseline": "middle", "fontSize": 15.5, "dx": -3, "dy": 9, "color": "#111"},
       "encoding": {"x": {"datum": "miR-200c", "bandPosition": 0}, "y": {"datum": 7}, "text": {"field": "t"}}}
    ]
  },
  {"width": 10, "height": 82, "data": {"values": [{"a": 1}]}, "mark": {"type": "point", "opacity": 0}},
  {
    "width": 312, "height": 199,
    "data": {"values": [
      {"target":"miR-200c","series":"LacZ","value":0.16,"lo":0.11,"hi":0.21},
      {"target":"miR-200c","series":"ERG","value":1.19,"lo":1.18,"hi":1.20},
      {"target":"PSA","series":"LacZ","value":0.13,"lo":0.10,"hi":0.16},
      {"target":"PSA","series":"ERG","value":2.13,"lo":2.01,"hi":2.24},
      {"target":"KIAA0066","series":"LacZ","value":0.16,"lo":0.13,"hi":0.19},
      {"target":"KIAA0066","series":"ERG","value":0.35,"lo":0.33,"hi":0.37}
    ]},
    "encoding": {"x": {"field": "target", "type": "nominal", "sort": ["miR-200c","PSA","KIAA0066"], "scale": {"type": "band", "paddingInner": 0.433, "paddingOuter": 0.2165}, "axis": {"title": null}}},
    "layer": [
      {"transform": [{"filter": "datum.series === 'LacZ'"}],
       "mark": {"type": "bar", "size": 29.5, "xOffset": -14.75},
       "encoding": {
         "y": {"field": "value", "type": "quantitative", "title": "Percentage of Input", "scale": {"domain": [0, 2.5], "nice": false}, "axis": {"values": [0,0.5,1,1.5,2,2.5], "labelExpr": "datum.value === 0 ? '0' : format(datum.value, '.1f')", "titlePadding": 2}},
         "color": {"field": "series", "type": "nominal", "sort": ["LacZ","ERG"], "scale": {"domain": ["LacZ","ERG"], "range": ["#4f81bd","#c0504d"]},
           "legend": {"orient": "none", "legendX": 245, "legendY": 3, "title": null, "strokeColor": "black", "fillColor": "white", "padding": 3, "rowPadding": 6, "symbolType": "square", "symbolSize": 40, "symbolStrokeWidth": 0, "labelFontSize": 11, "labelOffset": 4, "labelColor": "#111"}}}},
      {"transform": [{"filter": "datum.series === 'ERG'"}],
       "mark": {"type": "bar", "size": 29.5, "xOffset": 14.75},
       "encoding": {
         "y": {"field": "value", "type": "quantitative", "title": "Percentage of Input"},
         "color": {"field": "series", "type": "nominal", "sort": ["LacZ","ERG"], "scale": {"domain": ["LacZ","ERG"], "range": ["#4f81bd","#c0504d"]}}}},
      {"transform": [{"filter": "datum.series === 'LacZ'"}],
       "mark": {"type": "rule", "color": "black", "strokeWidth": 1.2, "xOffset": -14.75},
       "encoding": {"y": {"field": "lo", "type": "quantitative", "title": "Percentage of Input"}, "y2": {"field": "hi"}}},
      {"transform": [{"filter": "datum.series === 'ERG'"}],
       "mark": {"type": "rule", "color": "black", "strokeWidth": 1.2, "xOffset": 14.75},
       "encoding": {"y": {"field": "lo", "type": "quantitative", "title": "Percentage of Input"}, "y2": {"field": "hi"}}},
      {"transform": [{"filter": "datum.series === 'LacZ'"}],
       "mark": {"type": "tick", "color": "black", "size": 8, "thickness": 1.3, "xOffset": -14.75},
       "encoding": {"y": {"field": "lo", "type": "quantitative", "title": "Percentage of Input"}}},
      {"transform": [{"filter": "datum.series === 'ERG'"}],
       "mark": {"type": "tick", "color": "black", "size": 8, "thickness": 1.3, "xOffset": 14.75},
       "encoding": {"y": {"field": "lo", "type": "quantitative", "title": "Percentage of Input"}}},
      {"transform": [{"filter": "datum.series === 'LacZ'"}],
       "mark": {"type": "tick", "color": "black", "size": 8, "thickness": 1.3, "xOffset": -14.75},
       "encoding": {"y": {"field": "hi", "type": "quantitative", "title": "Percentage of Input"}}},
      {"transform": [{"filter": "datum.series === 'ERG'"}],
       "mark": {"type": "tick", "color": "black", "size": 8, "thickness": 1.3, "xOffset": 14.75},
       "encoding": {"y": {"field": "hi", "type": "quantitative", "title": "Percentage of Input"}}},
      {"data": {"values": [{"t": "LNCaP"}]},
       "mark": {"type": "text", "align": "left", "baseline": "middle", "fontSize": 16, "dx": -10.5, "dy": 1, "color": "#111"},
       "encoding": {"x": {"datum": "miR-200c", "bandPosition": 0}, "y": {"datum": 2.5}, "text": {"field": "t"}}},
      {"data": {"values": [{"t": "anti-ERG ChIP"}]},
       "mark": {"type": "text", "align": "left", "baseline": "middle", "fontSize": 16, "dx": -10.5, "dy": 16.7, "color": "#111"},
       "encoding": {"x": {"datum": "miR-200c", "bandPosition": 0}, "y": {"datum": 2.5}, "text": {"field": "t"}}}
    ]
  },
  {"width": 10, "height": 73, "data": {"values": [{"a": 1}]}, "mark": {"type": "point", "opacity": 0}},
  {
    "hconcat": [
      {"width": 23, "height": 10, "data": {"values": [{"a": 1}]}, "mark": {"type": "point", "opacity": 0}},
      {
        "width": 286, "height": 237,
        "data": {"values": [
          {"target":"miR-200c-WT","series":"LacZ","value":1.0,"lo":0.905,"hi":1.085},
          {"target":"miR-200c-WT","series":"ERG","value":0.61,"lo":0.54,"hi":0.685},
          {"target":"miR-200c-mut","series":"LacZ","value":1.0,"lo":0.98,"hi":1.02},
          {"target":"miR-200c-mut","series":"ERG","value":0.87,"lo":0.86,"hi":0.88},
          {"target":"PSA","series":"LacZ","value":1.0,"lo":0.88,"hi":1.115},
          {"target":"PSA","series":"ERG","value":0.055,"lo":0.053,"hi":0.057}
        ]},
        "encoding": {"x": {"field": "target", "type": "nominal", "sort": ["miR-200c-WT","miR-200c-mut","PSA"], "scale": {"type": "band", "paddingInner": 0.44, "paddingOuter": 0.22}, "axis": {"title": null}}},
        "layer": [
          {"transform": [{"filter": "datum.series === 'LacZ'"}],
           "mark": {"type": "bar", "size": 26.7, "xOffset": -13.35},
           "encoding": {
             "y": {"field": "value", "type": "quantitative", "title": "Luciferase activity", "scale": {"domain": [0, 1.2], "nice": false}, "axis": {"values": [0,0.2,0.4,0.6,0.8,1,1.2], "labelExpr": "datum.value === 0 ? '0' : format(datum.value, '.1f')", "titlePadding": 6}},
             "color": {"field": "series", "type": "nominal", "sort": ["LacZ","ERG"], "scale": {"domain": ["LacZ","ERG"], "range": ["#4f81bd","#c0504d"]},
               "legend": {"orient": "none", "legendX": 243, "legendY": 15, "title": null, "strokeColor": "black", "fillColor": "white", "padding": 4.5, "rowPadding": 7, "symbolType": "square", "symbolSize": 40, "symbolStrokeWidth": 0, "labelFontSize": 11, "labelOffset": 4, "labelColor": "#111"}}}},
          {"transform": [{"filter": "datum.series === 'ERG'"}],
           "mark": {"type": "bar", "size": 26.7, "xOffset": 13.35},
           "encoding": {
             "y": {"field": "value", "type": "quantitative", "title": "Luciferase activity"},
             "color": {"field": "series", "type": "nominal", "sort": ["LacZ","ERG"], "scale": {"domain": ["LacZ","ERG"], "range": ["#4f81bd","#c0504d"]}}}},
          {"transform": [{"filter": "datum.series === 'LacZ'"}],
           "mark": {"type": "rule", "color": "black", "strokeWidth": 1.2, "xOffset": -13.35},
           "encoding": {"y": {"field": "lo", "type": "quantitative", "title": "Luciferase activity"}, "y2": {"field": "hi"}}},
          {"transform": [{"filter": "datum.series === 'ERG'"}],
           "mark": {"type": "rule", "color": "black", "strokeWidth": 1.2, "xOffset": 13.35},
           "encoding": {"y": {"field": "lo", "type": "quantitative", "title": "Luciferase activity"}, "y2": {"field": "hi"}}},
          {"transform": [{"filter": "datum.series === 'LacZ'"}],
           "mark": {"type": "tick", "color": "black", "size": 8, "thickness": 1.3, "xOffset": -13.35},
           "encoding": {"y": {"field": "lo", "type": "quantitative", "title": "Luciferase activity"}}},
          {"transform": [{"filter": "datum.series === 'ERG'"}],
           "mark": {"type": "tick", "color": "black", "size": 8, "thickness": 1.3, "xOffset": 13.35},
           "encoding": {"y": {"field": "lo", "type": "quantitative", "title": "Luciferase activity"}}},
          {"transform": [{"filter": "datum.series === 'LacZ'"}],
           "mark": {"type": "tick", "color": "black", "size": 8, "thickness": 1.3, "xOffset": -13.35},
           "encoding": {"y": {"field": "hi", "type": "quantitative", "title": "Luciferase activity"}}},
          {"transform": [{"filter": "datum.series === 'ERG'"}],
           "mark": {"type": "tick", "color": "black", "size": 8, "thickness": 1.3, "xOffset": 13.35},
           "encoding": {"y": {"field": "hi", "type": "quantitative", "title": "Luciferase activity"}}},
          {"data": {"values": [{"t": "LNCaP"}]},
           "mark": {"type": "text", "align": "left", "baseline": "middle", "fontSize": 13.5, "dx": -12, "dy": 1, "color": "#111"},
           "encoding": {"x": {"datum": "miR-200c-WT", "bandPosition": 0}, "y": {"datum": 1.2}, "text": {"field": "t"}}}
        ]
      }
    ],
    "spacing": 0,
    "bounds": "flush",
    "resolve": {"scale": {"color": "independent"}, "legend": {"color": "independent"}}
  }
  ],
  "spacing": 0,
  "bounds": "flush",
  "resolve": {"scale": {"color": "independent"}, "legend": {"color": "independent"}}
}
],
"spacing": 392,
"bounds": "flush",
"resolve": {"scale": {"color": "independent", "shape": "independent", "size": "independent", "stroke": "independent"}, "legend": {"color": "independent"}}
}
